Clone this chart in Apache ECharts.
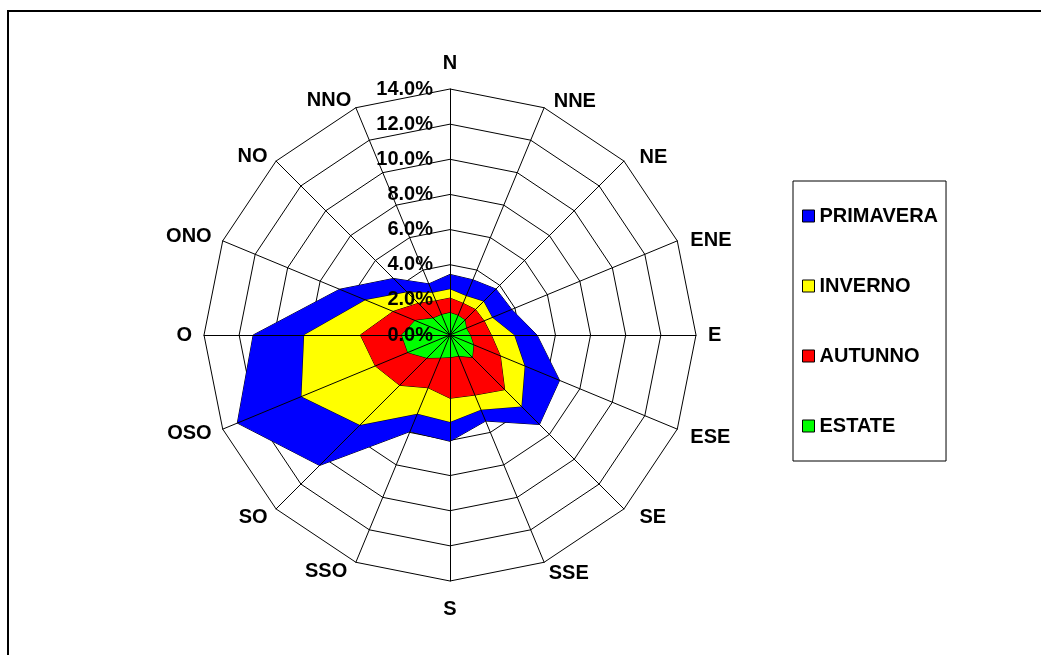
<!DOCTYPE html>
<html>
<head>
<meta charset="utf-8">
<script src="https://cdn.jsdelivr.net/npm/echarts@6/dist/echarts.min.js"></script>
<style>
  html, body { margin: 0; padding: 0; background: #fff; }
  #chart { width: 1041px; height: 655px; }
</style>
</head>
<body>
<div id="chart"></div>
<script>
// Wind directions, clockwise from north
const directions = ['N', 'NNE', 'NE', 'ENE', 'E', 'ESE', 'SE', 'SSE', 'S', 'SSO', 'SO', 'OSO', 'O', 'ONO', 'NO', 'NNO'];

// Frequency (%) per direction and season
const primavera = [3.45, 3.4, 3.7, 3.8, 4.95, 6.75, 7.2, 5.3, 6.05, 5.95, 10.5, 13.1, 11.2, 6.8, 4.55, 3.15];
const inverno   = [2.6, 2.4, 2.7, 2.6, 3.65, 4.6, 5.75, 4.6, 4.95, 4.85, 7.25, 9.15, 8.3, 5.2, 3.45, 2.6];
const autunno   = [2.1, 1.95, 2.05, 2.1, 2.35, 3.1, 4.4, 3.7, 3.6, 3.25, 4.05, 4.6, 5.1, 3.5, 2.55, 2.1];
const estate    = [1.27, 1.2, 1.2, 1.0, 1.15, 1.45, 1.8, 1.3, 1.27, 1.4, 1.85, 2.6, 2.75, 2.15, 1.35, 1.25];

// Radial scale ticks (%)
const ticks = [0, 2, 4, 6, 8, 10, 12, 14];

const seasons = [
  { name: 'PRIMAVERA', values: primavera, color: '#0000FF' },
  { name: 'INVERNO',   values: inverno,   color: '#FFFF00' },
  { name: 'AUTUNNO',   values: autunno,   color: '#FF0000' },
  { name: 'ESTATE',    values: estate,    color: '#00FF00' }
];

const FONT = "'Liberation Sans', Arial, sans-serif";
const FONT_SIZE = 20;
const CENTER = [450, 335];
const RADIUS = 246;
const tMin = ticks[0], tMax = ticks[ticks.length - 1], tStep = ticks[1] - ticks[0];

// Small nudges [dx, dy] for the direction names around the rim
const nameNudge = {
  N: [0, -4], NNE: [5, 5], NE: [7, 5], ENE: [2, 4], ESE: [2, 4], SE: [7, 0],
  S: [0, 6], SSO: [-4, -2], NO: [0, 4], NNO: [0, 4]
};

function nameRich() {
  const rich = {};
  directions.forEach(d => {
    const [dx, dy] = nameNudge[d] || [0, 0];
    let top = 0, right = 0, bottom = 0, left = 0;
    if (dx > 0) left = dx; else if (dx < 0) right = -dx;
    if (d === 'N') { bottom = -dy; }
    else if (d === 'S') { top = dy; }
    else if (dy > 0) { top = 2 * dy; }
    else if (dy < 0) { bottom = -2 * dy; }
    rich[d] = {
      color: '#000', fontWeight: 'bold', fontSize: FONT_SIZE, fontFamily: FONT,
      padding: [top, right, bottom, left]
    };
  });
  return rich;
}

// ECharts lays radar indicators out counter-clockwise; reorder to run clockwise.
const order = directions.map((_, i) => (directions.length - i) % directions.length);
const indicators = order.map(i => ({ name: directions[i], min: tMin, max: tMax }));

const chart = echarts.init(document.getElementById('chart'), null, { renderer: 'canvas' });

chart.setOption({
  animation: false,
  backgroundColor: '#fff',
  graphic: [{
    type: 'rect',
    shape: { x: 8, y: 11, width: 1100, height: 1000 },
    style: { fill: 'none', stroke: '#000', lineWidth: 2 },
    silent: true,
    z: -1
  }],
  legend: {
    orient: 'vertical',
    left: 793,
    top: 181,
    padding: [25, 8, 25, 9],
    itemGap: 50,
    itemWidth: 12,
    itemHeight: 12,
    icon: 'rect',
    borderColor: '#000',
    borderWidth: 1,
    selectedMode: false,
    itemStyle: { borderColor: '#000', borderWidth: 1 },
    textStyle: { color: '#000', fontWeight: 'bold', fontSize: FONT_SIZE, fontFamily: FONT },
    data: seasons.map(s => s.name)
  },
  radar: [
    {
      center: CENTER,
      radius: RADIUS,
      startAngle: 90,
      shape: 'polygon',
      splitNumber: (tMax - tMin) / tStep,
      indicator: indicators,
      nameGap: 12,
      axisName: {
        color: '#000', fontWeight: 'bold', fontSize: FONT_SIZE, fontFamily: FONT,
        formatter: name => '{' + name + '|' + name + '}',
        rich: nameRich()
      },
      axisLine: { show: false },
      axisTick: { show: false },
      axisLabel: { show: false },
      splitArea: { show: false },
      splitLine: { lineStyle: { color: '#000', width: 1 } }
    },
    {
      // spokes drawn above the filled areas
      center: CENTER,
      radius: RADIUS,
      startAngle: 90,
      shape: 'polygon',
      splitNumber: (tMax - tMin) / tStep,
      indicator: indicators,
      axisName: { show: false },
      axisLine: { lineStyle: { color: '#000', width: 1 } },
      axisTick: { show: false },
      axisLabel: { show: false },
      splitArea: { show: false },
      splitLine: { show: false },
      z: 3
    }
  ],
  // radial scale labels along the north spoke
  grid: { left: 440, top: CENTER[1] - RADIUS, height: RADIUS, width: 10, show: false },
  xAxis: { type: 'value', show: false },
  yAxis: {
    type: 'value',
    min: tMin,
    max: tMax,
    interval: tStep,
    z: 5,
    axisLine: { show: false },
    axisTick: { show: false },
    splitLine: { show: false },
    axisLabel: {
      margin: 7,
      color: '#000',
      fontWeight: 'bold',
      fontSize: FONT_SIZE,
      fontFamily: FONT,
      formatter: v => v.toFixed(1) + '%'
    }
  },
  series: seasons.map(s => ({
    type: 'radar',
    radarIndex: 0,
    name: s.name,
    symbol: 'none',
    silent: true,
    z: 2,
    itemStyle: { color: s.color },
    lineStyle: { color: '#000', width: 1 },
    areaStyle: { color: s.color, opacity: 1 },
    emphasis: { disabled: true },
    data: [{ name: s.name, value: order.map(i => s.values[i]) }]
  }))
});
</script>
</body>
</html>
